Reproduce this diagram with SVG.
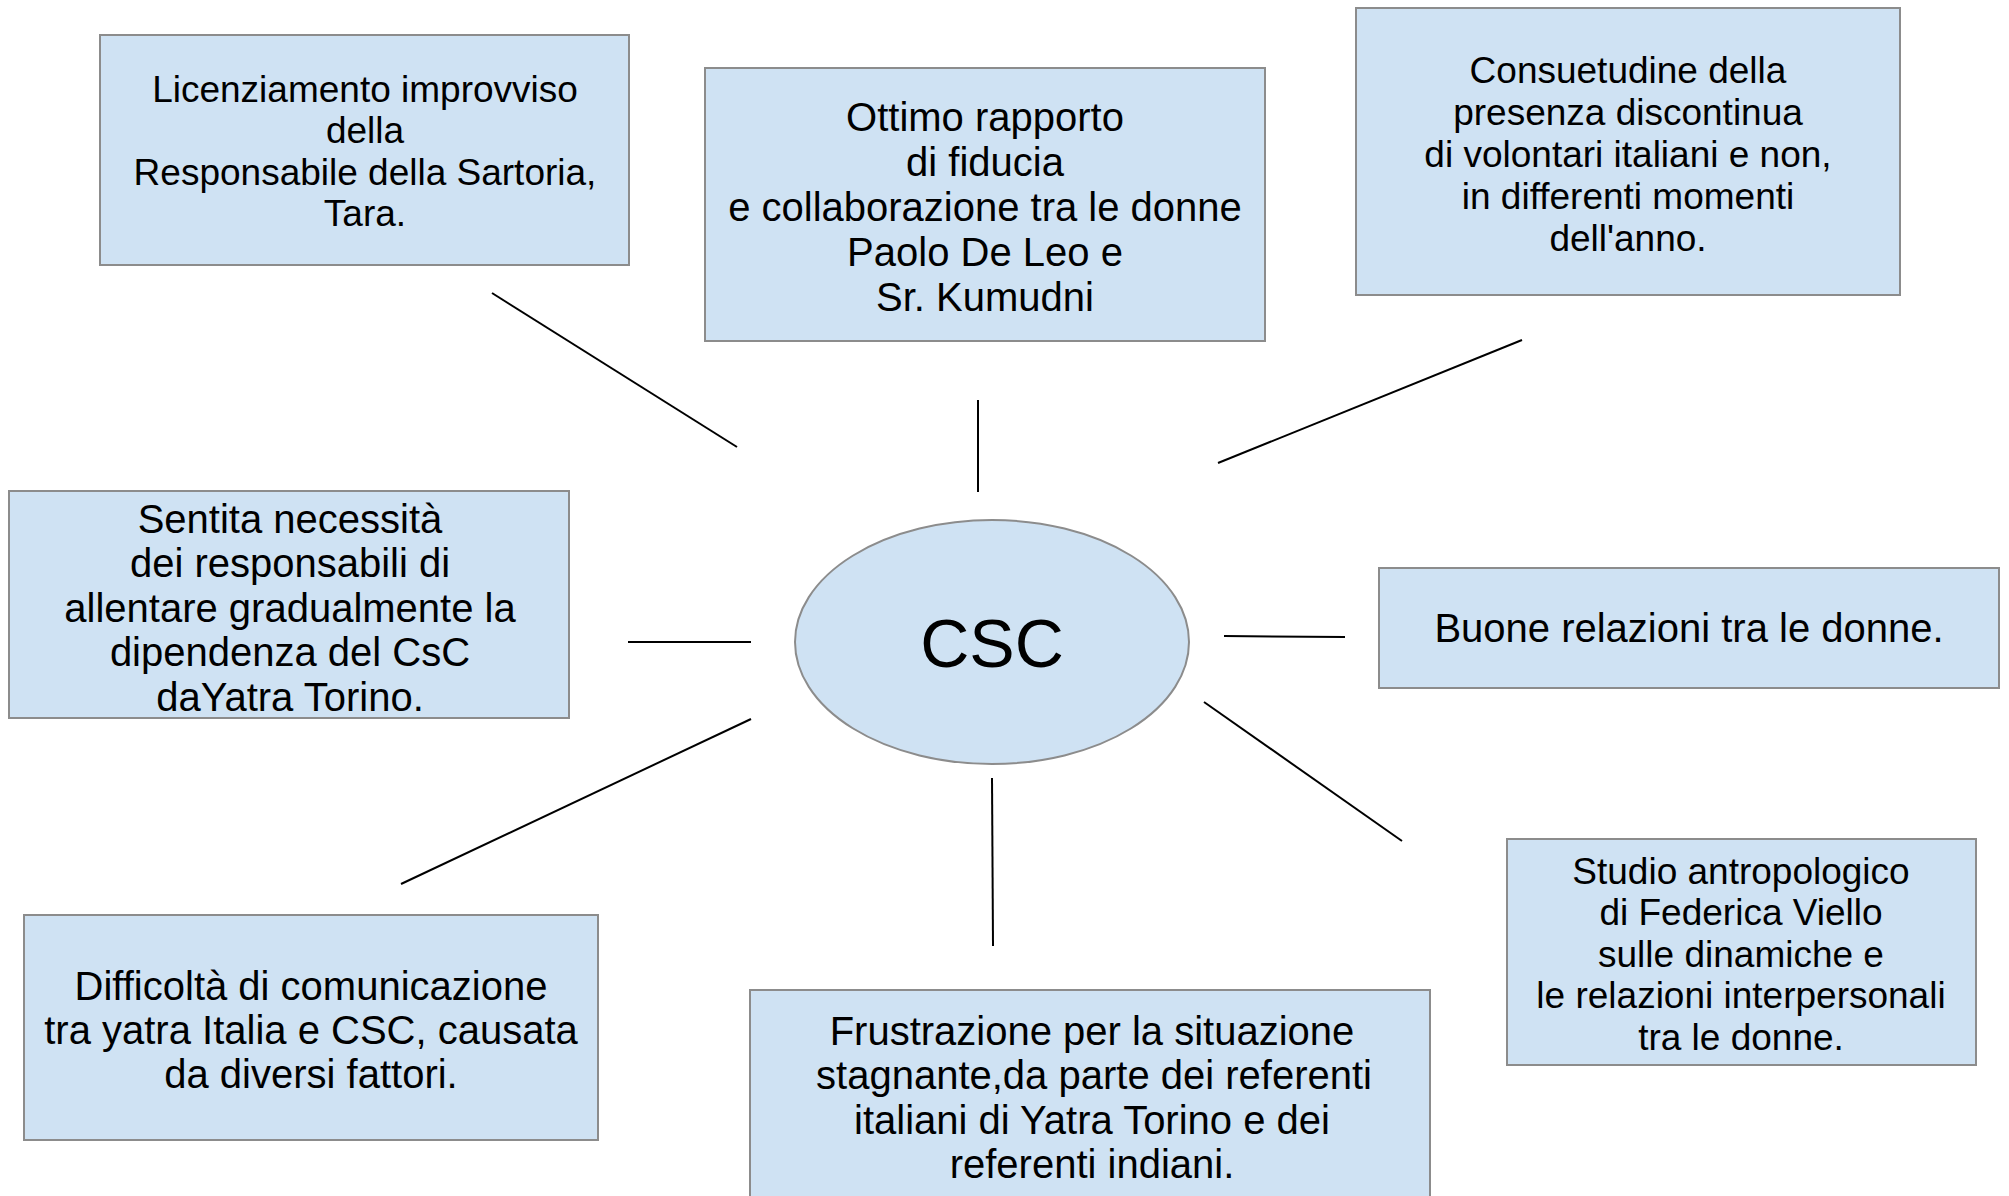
<svg xmlns="http://www.w3.org/2000/svg" width="2009" height="1196" viewBox="0 0 2009 1196">
<style>
.box{fill:#cfe2f3;stroke:#8c8c8c;stroke-width:2}
.t{font-family:"Liberation Sans",Arial,sans-serif;fill:#000;text-anchor:middle}
.s37{font-size:37px}
.s40{font-size:40px}
.conn line{stroke:#000;stroke-width:2}
</style>
<rect width="2009" height="1196" fill="#fff"/>
<g id="connectors" class="conn">
<line x1="492" y1="293" x2="737" y2="447"/>
<line x1="978" y1="400" x2="978" y2="492"/>
<line x1="1522" y1="340" x2="1218" y2="463"/>
<line x1="628" y1="642" x2="751" y2="642"/>
<line x1="1224" y1="636" x2="1345" y2="637"/>
<line x1="751" y1="719" x2="401" y2="884"/>
<line x1="992" y1="778" x2="993" y2="946"/>
<line x1="1204" y1="702" x2="1402" y2="841"/>
</g>
<g id="csc">
<ellipse class="box" cx="992" cy="642" rx="197" ry="122"/>
<text class="t" x="992" y="667" font-size="68">CSC</text>
</g>
<g id="licenziamento">
<rect class="box" x="100" y="35" width="529" height="230"/>
<text class="t s37" x="365"><tspan x="365" y="102">Licenziamento improvviso</tspan><tspan x="365" y="143">della</tspan><tspan x="365" y="185">Responsabile della Sartoria,</tspan><tspan x="365" y="226">Tara.</tspan></text>
</g>
<g id="ottimo">
<rect class="box" x="705" y="68" width="560" height="273"/>
<text class="t s40" x="985"><tspan x="985" y="131">Ottimo rapporto</tspan><tspan x="985" y="176">di fiducia</tspan><tspan x="985" y="221">e collaborazione tra le donne</tspan><tspan x="985" y="266">Paolo De Leo e</tspan><tspan x="985" y="311">Sr. Kumudni</tspan></text>
</g>
<g id="consuetudine">
<rect class="box" x="1356" y="8" width="544" height="287"/>
<text class="t s37" x="1628"><tspan x="1628" y="83">Consuetudine della</tspan><tspan x="1628" y="125">presenza discontinua</tspan><tspan x="1628" y="167">di volontari italiani e non,</tspan><tspan x="1628" y="209">in differenti momenti</tspan><tspan x="1628" y="251">dell'anno.</tspan></text>
</g>
<g id="sentita">
<rect class="box" x="9" y="491" width="560" height="227"/>
<text class="t s40" x="290"><tspan x="290" y="533">Sentita necessità</tspan><tspan x="290" y="577">dei responsabili di</tspan><tspan x="290" y="622">allentare gradualmente la</tspan><tspan x="290" y="666">dipendenza del CsC</tspan><tspan x="290" y="711">daYatra Torino.</tspan></text>
</g>
<g id="buone">
<rect class="box" x="1379" y="568" width="620" height="120"/>
<text class="t s40" x="1689" y="642">Buone relazioni tra le donne.</text>
</g>
<g id="difficolta">
<rect class="box" x="24" y="915" width="574" height="225"/>
<text class="t s40" x="311"><tspan x="311" y="1000">Difficoltà di comunicazione</tspan><tspan x="311" y="1044">tra yatra Italia e CSC, causata</tspan><tspan x="311" y="1088">da diversi fattori.</tspan></text>
</g>
<g id="frustrazione">
<rect class="box" x="750" y="990" width="680" height="230"/>
<text class="t s40" x="1092"><tspan x="1092" y="1045">Frustrazione per la situazione</tspan><tspan x="1094" y="1089">stagnante,da parte dei referenti</tspan><tspan x="1092" y="1134">italiani di Yatra Torino e dei</tspan><tspan x="1092" y="1178">referenti indiani.</tspan></text>
</g>
<g id="studio">
<rect class="box" x="1507" y="839" width="469" height="226"/>
<text class="t s37" x="1741"><tspan x="1741" y="884">Studio antropologico</tspan><tspan x="1741" y="925">di Federica Viello</tspan><tspan x="1741" y="967">sulle dinamiche e</tspan><tspan x="1741" y="1008">le relazioni interpersonali</tspan><tspan x="1741" y="1050">tra le donne.</tspan></text>
</g>
</svg>
